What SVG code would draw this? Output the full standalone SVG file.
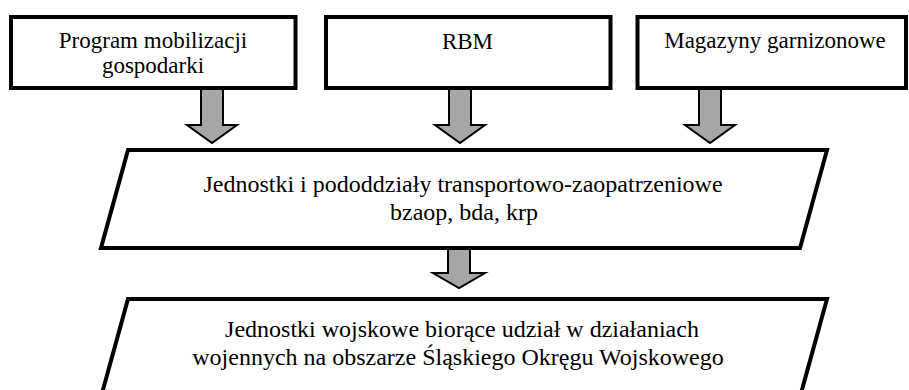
<svg xmlns="http://www.w3.org/2000/svg" width="909" height="390" viewBox="0 0 909 390">
<style>
.box{fill:#fff;stroke:#000;stroke-width:4;stroke-linejoin:miter}
.arr{fill:#a6a6a6;stroke:#000;stroke-width:2;stroke-linejoin:miter}
text{font-family:'Times New Roman',Times,'Liberation Serif',Tinos,'Noto Serif','DejaVu Serif',FreeSerif,serif;fill:#000;text-anchor:middle}
.s{font-size:23px}
.m{font-size:24px}
</style>
<rect width="909" height="390" fill="#fff"/>
<g id="connectors">
<path class="arr" d="M201,88 L223,88 L223,125 L237,125 L212,143 L187,125 L201,125 Z"/>
<path class="arr" d="M449,88 L471,88 L471,125 L485,125 L460,143 L435,125 L449,125 Z"/>
<path class="arr" d="M699,88 L721,88 L721,125 L735,125 L710,143 L685,125 L699,125 Z"/>
<path class="arr" d="M448,246 L470,246 L470,273 L485,273 L459,288 L433,273 L448,273 Z"/>
</g>
<g id="program">
<rect class="box" x="11" y="17" width="284.5" height="71"/>
<text class="s" x="153" y="48">Program mobilizacji</text>
<text class="s" x="153" y="73">gospodarki</text>
</g>
<g id="rbm">
<rect class="box" x="326" y="17" width="284.5" height="71"/>
<text class="s" x="467.5" y="49">RBM</text>
</g>
<g id="magazyny">
<rect class="box" x="637.5" y="17" width="268.5" height="71"/>
<text class="s" x="775" y="48">Magazyny garnizonowe</text>
</g>
<g id="jednostki-transport">
<path class="box" d="M128,150 L827,150 L800,248 L101,248 Z"/>
<text class="m" x="463" y="192">Jednostki i pododdziały transportowo-zaopatrzeniowe</text>
<text class="m" x="464" y="220">bzaop, bda, krp</text>
</g>
<g id="jednostki-wojskowe">
<path class="box" d="M128,299 L827,299 L800,397 L101,397 Z"/>
<text class="m" x="462" y="337">Jednostki wojskowe biorące udział w działaniach</text>
<text class="m" x="458" y="365">wojennych na obszarze Śląskiego Okręgu Wojskowego</text>
</g>
</svg>
